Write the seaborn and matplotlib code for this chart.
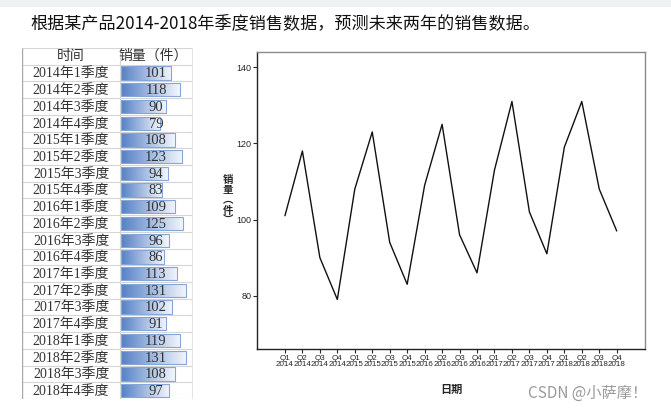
import numpy as np
import pandas as pd
import matplotlib
matplotlib.use("Agg")
import matplotlib.pyplot as plt
from matplotlib.colors import LinearSegmentedColormap
from matplotlib.patches import Rectangle
import seaborn as sns

# ---- data ----
periods = ["2014年1季度", "2014年2季度", "2014年3季度", "2014年4季度",
           "2015年1季度", "2015年2季度", "2015年3季度", "2015年4季度",
           "2016年1季度", "2016年2季度", "2016年3季度", "2016年4季度",
           "2017年1季度", "2017年2季度", "2017年3季度", "2017年4季度",
           "2018年1季度", "2018年2季度", "2018年3季度", "2018年4季度"]
sales = [101, 118, 90, 79, 108, 123, 94, 83, 109, 125, 96, 86,
         113, 131, 102, 91, 119, 131, 108, 97]
quarter_labels = ["Q1\n2014", "Q2\n2014", "Q3\n2014", "Q4\n2014",
                  "Q1\n2015", "Q2\n2015", "Q3\n2015", "Q4\n2015",
                  "Q1\n2016", "Q2\n2016", "Q3\n2016", "Q4\n2016",
                  "Q1\n2017", "Q2\n2017", "Q3\n2017", "Q4\n2017",
                  "Q1\n2018", "Q2\n2018", "Q3\n2018", "Q4\n2018"]
y_ticks = [80, 100, 120, 140]
title = "根据某产品2014-2018年季度销售数据，预测未来两年的销售数据。"
col_headers = ["时间", "销量（件）"]
x_label = "日期"
y_label = "销\n量\n︵\n件\n︶"
watermark = "CSDN @小萨摩！"

df = pd.DataFrame({"period": periods, "sales": sales, "idx": np.arange(len(sales))})

sns.set_style("white")
plt.rcParams["font.family"] = ["Noto Sans CJK SC", "DejaVu Sans"]

W, H = 671, 411
fig = plt.figure(figsize=(W / 100, H / 100), dpi=100)

def px_axes(x0, y0, x1, y1):
    return fig.add_axes([x0 / W, (H - y1) / H, (x1 - x0) / W, (y1 - y0) / H])

# top band
fig.patches.append(Rectangle((0, (H - 7) / H), 1, 7 / H, transform=fig.transFigure,
                             facecolor="#EEF2F2", edgecolor="none", zorder=0))
fig.text(30 / W, 1 - 23 / H, title, fontsize=12.3, va="center", ha="left", color="#111111")

# ---- table with data bars ----
ax_t = px_axes(22, 48, 193, 399)
sns.barplot(data=df, x="sales", y="period", orient="h", ax=ax_t, width=0.8,
            color="#5B87CB", saturation=1)
ax_t.set_xlim(-198, 144)
ax_t.set_ylim(19.5, -1.5)
cmap = LinearSegmentedColormap.from_list("g", ["#5580C6", "#F4F7FC"])
grad = np.linspace(0, 1, 256).reshape(1, -1)
for p in list(ax_t.patches):
    x0, y0 = p.get_x(), p.get_y()
    w, h = p.get_width(), p.get_height()
    im = ax_t.imshow(grad, extent=[x0, x0 + w, y0 + h, y0], aspect="auto", cmap=cmap,
                     zorder=1, interpolation="bilinear")
    im.set_clip_path(p)
    p.set_facecolor("none")
    p.set_edgecolor("#86A6D8")
    p.set_linewidth(0.8)
    p.set_zorder(2)
ax_t.set_xlim(-198, 144)
ax_t.set_ylim(19.5, -1.5)
ax_t.axis("off")
tfam = ["Liberation Serif", "Noto Sans CJK SC"]
for i, (lab, v) in enumerate(zip(periods, sales)):
    ax_t.text(-100, i + 0.05, lab, ha="center", va="center", fontsize=10, family=tfam, color="#333333")
    ax_t.text(70, i + 0.05, str(v), ha="center", va="center", fontsize=10.5, family=tfam,
              color="#333333", zorder=3)
ax_t.text(-100, -1, col_headers[0], ha="center", va="center", fontsize=10, family=tfam, color="#333333")
ax_t.text(64, -1, col_headers[1], ha="center", va="center", fontsize=10, family=tfam, color="#333333")
for b in np.arange(-1.5, 20.5, 1.0):
    ax_t.hlines(b, -198, 144, color="#D6D6D6", lw=0.8, zorder=0)
ax_t.vlines(-198, -1.5, 19.5, color="#A8A8A8", lw=1.0)
ax_t.vlines(-2, -1.5, 19.5, color="#D6D6D6", lw=0.8)
ax_t.vlines(142, -1.5, 19.5, color="#E4E4E4", lw=0.8)

# ---- line chart ----
ax = px_axes(257, 52, 645, 349)
sns.lineplot(data=df, x="idx", y="sales", ax=ax, color="#111111", lw=1.0)
ax.set_xlim(-1.6, 20.62)
ax.set_ylim(66, 144)
ax.set_xticks(np.arange(len(sales)))
ax.set_xticklabels(quarter_labels, family=["Liberation Sans"], fontsize=5.8, linespacing=0.9)
ax.set_yticks(y_ticks)
ax.set_yticklabels([str(t) for t in y_ticks], family=["Liberation Sans"], fontsize=6.5)
ax.tick_params(axis="x", length=3, width=0.8, pad=1, direction="out", bottom=True)
ax.tick_params(axis="y", length=3, width=0.8, pad=1, direction="out", left=True)
for s in ["top", "right"]:
    ax.spines[s].set_color("#8A8A8A")
    ax.spines[s].set_linewidth(1.0)
for s in ["left", "bottom"]:
    ax.spines[s].set_color("#222222")
    ax.spines[s].set_linewidth(1.0)
ax.set_xlabel(x_label, fontsize=8, fontweight="bold")
ax.xaxis.set_label_coords(0.5, -0.115)
ax.set_ylabel(y_label, fontsize=7.5, fontweight="bold", rotation=0, linespacing=1.0, va="center")
ax.yaxis.set_label_coords(-0.075, 0.5)

fig.text(528 / W, 1 - 393 / H, watermark, fontsize=11, color="#9A9A9A", va="center", ha="left")

fig.savefig("out.png", dpi=100)
